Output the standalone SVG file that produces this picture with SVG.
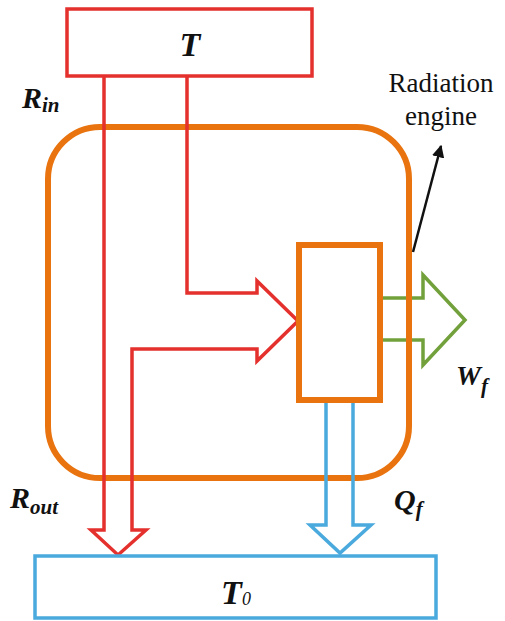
<svg xmlns="http://www.w3.org/2000/svg" width="505" height="621" viewBox="0 0 505 621">
  <defs>
    <marker id="blackHead" viewBox="0 0 10 10" refX="9" refY="5" markerWidth="5" markerHeight="5" orient="auto" markerUnits="strokeWidth">
      <path d="M0,0 L10,5 L0,10 z" fill="#111"/>
    </marker>
    <style>
      .red { fill: none; stroke: #e5312d; stroke-width: 3.5; stroke-linejoin: miter; }
      .blue { fill: none; stroke: #4aa9dd; stroke-width: 3.5; stroke-linejoin: miter; }
      .green { fill: none; stroke: #72a13c; stroke-width: 3.5; stroke-linejoin: miter; }
      .orange { fill: none; stroke: #e9730e; stroke-width: 6; }
      .sym { font-family: 'Liberation Serif', 'DejaVu Serif', serif; font-weight: bold; font-style: italic; fill: #111; }
      .plain { font-family: 'Liberation Serif', 'DejaVu Serif', serif; fill: #111; font-size: 27px; }
    </style>
  </defs>
  <rect width="505" height="621" fill="#fff"/>

  <g id="connectors">
    <path id="work-arrow" class="green" d="M381,298 L423,298 L423,275 L465,320 L423,365 L423,340 L381,340"/>
  </g>

  <g id="radiation-engine">
    <rect class="orange" x="48" y="127" width="361" height="351" rx="52" ry="52"/>
  </g>

  <g id="connectors-2">
    <path id="radiation-arrows" class="red" d="M104,77 L104,530 L91,530 L118,555 L146,530 L132,530 L132,349 L257,349 L257,361 L298,321 L257,281 L257,293 L187,293 L187,77"/>
    <path id="heat-arrow" class="blue" d="M326,402 L326,525 L310,525 L340,553 L371,525 L353,525 L353,402"/>
    <line id="label-pointer" x1="413" y1="252" x2="441" y2="146" stroke="#111" stroke-width="2.5" marker-end="url(#blackHead)"/>
  </g>

  <g id="engine-box">
    <rect class="orange" x="299" y="245" width="81" height="155"/>
  </g>

  <g id="source-T">
    <rect class="red" x="67" y="9" width="245" height="67"/>
    <text class="sym" x="190" y="56" font-size="34" text-anchor="middle">T</text>
  </g>

  <g id="sink-T0">
    <rect class="blue" x="35" y="556" width="401" height="62"/>
    <text class="sym" x="236" y="604" font-size="34" text-anchor="middle">T<tspan font-size="18" font-weight="normal" dy="1">0</tspan></text>
  </g>

  <g id="labels">
    <text class="sym" x="22" y="108" font-size="30">R<tspan font-size="21" dy="4">in</tspan></text>
    <text class="sym" x="10" y="508" font-size="30">R<tspan font-size="21" dy="6">out</tspan></text>
    <text class="sym" x="394" y="510" font-size="30">Q<tspan font-size="21" dy="6">f</tspan></text>
    <text class="sym" x="456" y="385" font-size="28">W<tspan font-size="21" dy="8">f</tspan></text>
    <text class="plain" x="441" y="92" text-anchor="middle">Radiation</text>
    <text class="plain" x="441" y="125" text-anchor="middle">engine</text>
  </g>
</svg>
